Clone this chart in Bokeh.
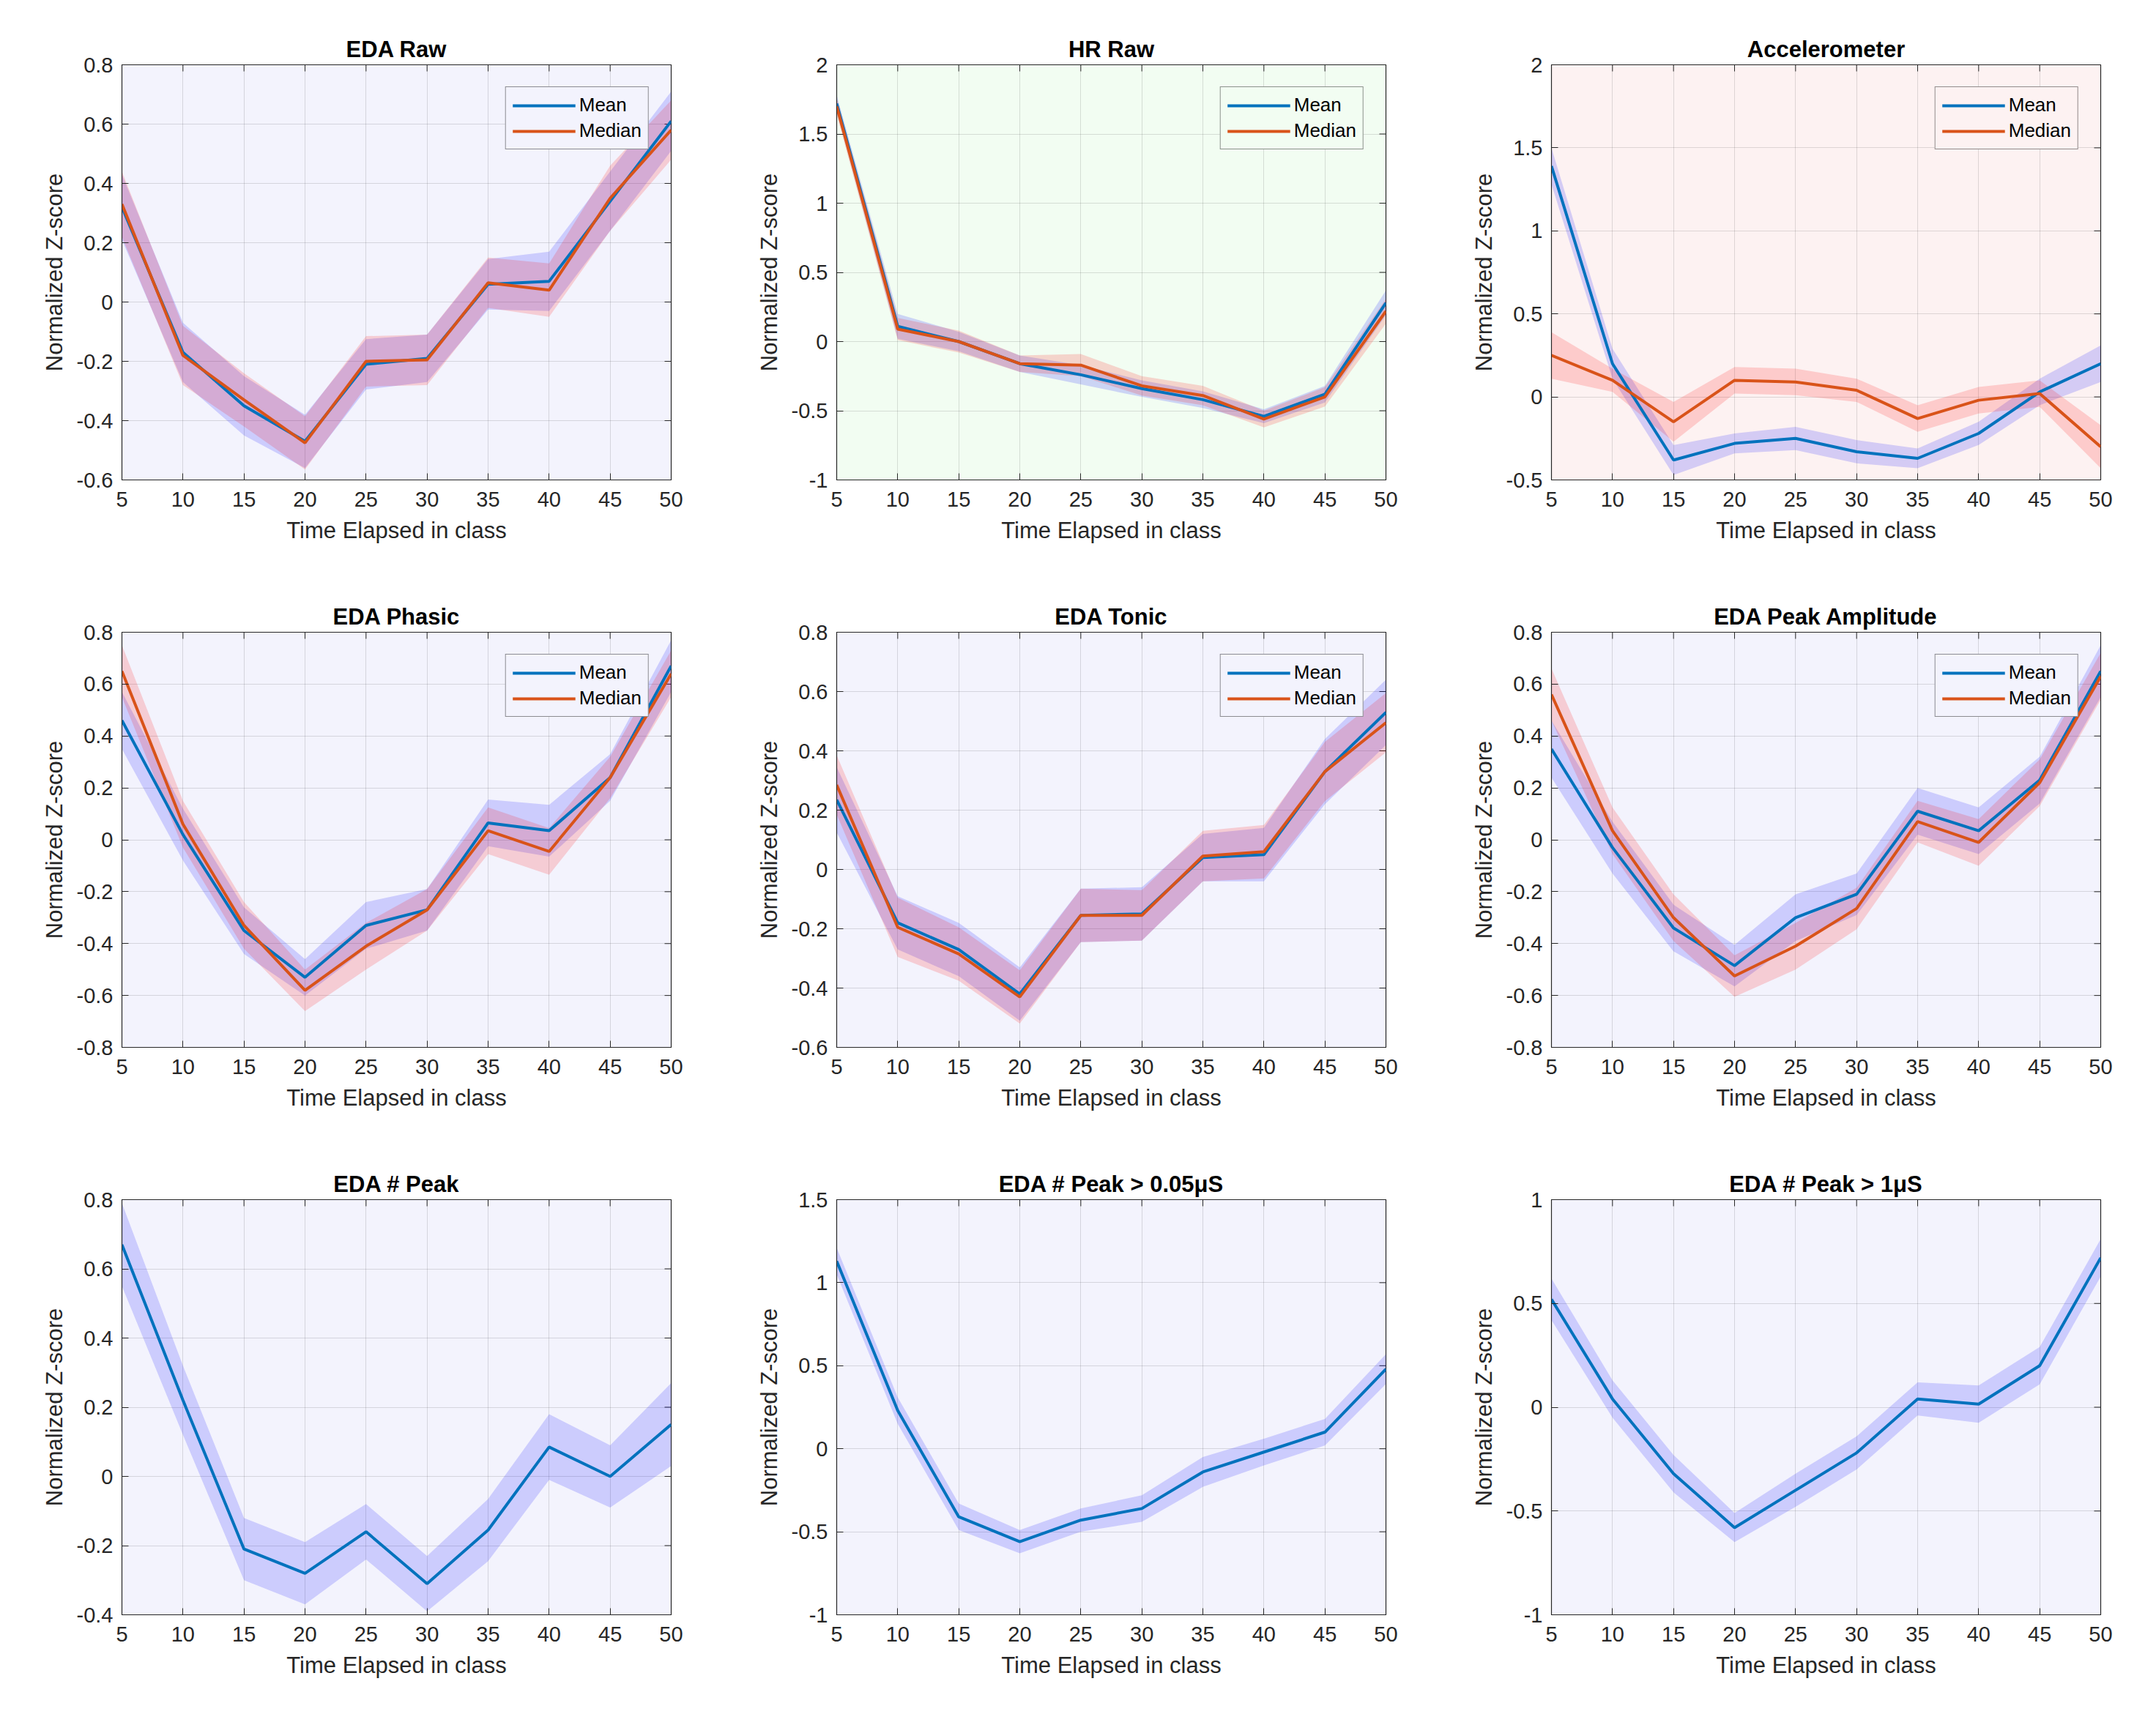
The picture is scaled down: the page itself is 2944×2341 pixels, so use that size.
from math import pi
from bokeh.plotting import figure
from bokeh.layouts import gridplot
from bokeh.models import Range1d, FixedTicker
from bokeh.embed import file_html
from bokeh.resources import INLINE

# time points (minutes elapsed in class)
t = [5, 10, 15, 20, 25, 30, 35, 40, 45, 50]

# EDA Raw
raw_mean = [0.32, -0.17, -0.35, -0.47, -0.21, -0.19, 0.06, 0.07, 0.34, 0.61]
raw_mean_err = [0.11, 0.10, 0.10, 0.09, 0.085, 0.08, 0.085, 0.10, 0.10, 0.10]
raw_median = [0.33, -0.18, -0.33, -0.475, -0.20, -0.195, 0.065, 0.04, 0.35, 0.58]
raw_median_err = [0.11, 0.10, 0.09, 0.09, 0.085, 0.085, 0.085, 0.09, 0.11, 0.10]

# HR Raw
hr_mean = [1.72, 0.11, 0.00, -0.16, -0.24, -0.34, -0.42, -0.54, -0.38, 0.28]
hr_mean_err = [0.06, 0.09, 0.07, 0.06, 0.07, 0.06, 0.06, 0.05, 0.06, 0.09]
hr_median = [1.70, 0.09, 0.00, -0.16, -0.17, -0.32, -0.39, -0.56, -0.40, 0.22]
hr_median_err = [0.06, 0.08, 0.08, 0.06, 0.08, 0.07, 0.07, 0.06, 0.07, 0.09]

# Accelerometer
acc_mean = [1.39, 0.20, -0.38, -0.28, -0.25, -0.33, -0.37, -0.22, 0.03, 0.20]
acc_mean_err = [0.11, 0.09, 0.09, 0.06, 0.07, 0.07, 0.06, 0.07, 0.08, 0.11]
acc_median = [0.25, 0.10, -0.15, 0.10, 0.09, 0.04, -0.13, -0.02, 0.02, -0.30]
acc_median_err = [0.14, 0.07, 0.12, 0.08, 0.08, 0.07, 0.08, 0.08, 0.08, 0.13]

# EDA Phasic
ph_mean = [0.46, 0.02, -0.35, -0.53, -0.33, -0.27, 0.065, 0.035, 0.24, 0.67]
ph_mean_err = [0.11, 0.10, 0.09, 0.07, 0.09, 0.08, 0.09, 0.10, 0.09, 0.10]
ph_median = [0.65, 0.06, -0.33, -0.58, -0.41, -0.27, 0.035, -0.045, 0.24, 0.64]
ph_median_err = [0.10, 0.09, 0.09, 0.08, 0.09, 0.08, 0.09, 0.09, 0.08, 0.09]

# EDA Tonic
to_mean = [0.235, -0.18, -0.27, -0.42, -0.155, -0.15, 0.04, 0.05, 0.33, 0.53]
to_mean_err = [0.11, 0.09, 0.09, 0.09, 0.09, 0.09, 0.08, 0.09, 0.11, 0.11]
to_median = [0.285, -0.195, -0.285, -0.43, -0.155, -0.155, 0.045, 0.06, 0.33, 0.495]
to_median_err = [0.10, 0.10, 0.09, 0.09, 0.09, 0.085, 0.085, 0.09, 0.10, 0.10]

# EDA Peak Amplitude
pa_mean = [0.35, -0.03, -0.34, -0.485, -0.30, -0.21, 0.11, 0.035, 0.23, 0.65]
pa_mean_err = [0.11, 0.10, 0.09, 0.08, 0.09, 0.08, 0.09, 0.09, 0.09, 0.10]
pa_median = [0.56, 0.035, -0.30, -0.525, -0.41, -0.265, 0.07, -0.01, 0.22, 0.63]
pa_median_err = [0.10, 0.09, 0.09, 0.08, 0.09, 0.08, 0.08, 0.09, 0.09, 0.09]

# EDA # Peak
npk_mean = [0.67, 0.22, -0.21, -0.28, -0.16, -0.31, -0.155, 0.085, 0.00, 0.15]
npk_err = [0.12, 0.10, 0.09, 0.09, 0.08, 0.08, 0.09, 0.095, 0.09, 0.12]

# EDA # Peak > 0.05uS
npk05_mean = [1.13, 0.23, -0.41, -0.56, -0.43, -0.36, -0.14, -0.02, 0.10, 0.48]
npk05_err = [0.08, 0.08, 0.08, 0.07, 0.07, 0.08, 0.09, 0.08, 0.08, 0.09]

# EDA # Peak > 1uS
npk1_mean = [0.52, 0.04, -0.32, -0.58, -0.40, -0.22, 0.04, 0.015, 0.20, 0.72]
npk1_err = [0.10, 0.09, 0.09, 0.07, 0.08, 0.08, 0.08, 0.09, 0.09, 0.09]

# tick values
xticks = [5, 10, 15, 20, 25, 30, 35, 40, 45, 50]
yt_raw = [-0.6, -0.4, -0.2, 0, 0.2, 0.4, 0.6, 0.8]
yt_hr = [-1, -0.5, 0, 0.5, 1, 1.5, 2]
yt_acc = [-0.5, 0, 0.5, 1, 1.5, 2]
yt_phasic = [-0.8, -0.6, -0.4, -0.2, 0, 0.2, 0.4, 0.6, 0.8]
yt_tonic = [-0.6, -0.4, -0.2, 0, 0.2, 0.4, 0.6, 0.8]
yt_amp = [-0.8, -0.6, -0.4, -0.2, 0, 0.2, 0.4, 0.6, 0.8]
yt_npk = [-0.4, -0.2, 0, 0.2, 0.4, 0.6, 0.8]
yt_npk05 = [-1, -0.5, 0, 0.5, 1, 1.5]
yt_npk1 = [-1, -0.5, 0, 0.5, 1]

FONT = "Liberation Sans"
TXT = "#262626"
MEAN_COLOR = "#0072BD"
MEDIAN_COLOR = "#D95319"
BG_EDA = "#f3f3fd"
BG_HR = "#f2fdf2"
BG_ACC = "#fdf2f2"


def band(p, y, err, color):
    lo = [a - b for a, b in zip(y, err)]
    hi = [a + b for a, b in zip(y, err)]
    p.varea(x=t, y1=lo, y2=hi, fill_color=color, fill_alpha=0.16)


def make_panel(title, yticks, bg, mean, mean_err, median=None, median_err=None):
    p = figure(frame_width=750, frame_height=567,
               x_range=Range1d(xticks[0], xticks[-1]), y_range=Range1d(yticks[0], yticks[-1]),
               output_backend="svg", toolbar_location=None, tools="",
               min_border_left=166, min_border_right=60,
               min_border_top=88, min_border_bottom=120)
    p.background_fill_color = bg
    p.border_fill_color = "white"
    p.outline_line_color = TXT
    p.outline_line_width = 1.2

    p.title.text = title
    p.title.align = "center"
    p.title.text_font = FONT
    p.title.text_font_size = "31px"
    p.title.text_font_style = "bold"
    p.title.text_color = "black"
    p.title.standoff = 8

    p.xaxis.ticker = FixedTicker(ticks=xticks)
    p.yaxis.ticker = FixedTicker(ticks=yticks)
    p.yaxis.major_label_overrides = {v: f"{v:g}" for v in yticks}
    p.xaxis.axis_label = "Time Elapsed in class"
    p.yaxis.axis_label = "Normalized Z-score"
    for ax in p.axis:
        ax.axis_label_text_font = FONT
        ax.axis_label_text_font_size = "31px"
        ax.axis_label_text_font_style = "normal"
        ax.axis_label_text_color = TXT
        ax.major_label_text_font = FONT
        ax.major_label_text_font_size = "29px"
        ax.major_label_text_color = TXT
        ax.axis_line_color = TXT
        ax.major_tick_line_color = TXT
        ax.major_tick_in = 9
        ax.major_tick_out = 0
        ax.minor_tick_line_color = None
    p.xaxis.major_label_standoff = 16
    p.xaxis.axis_label_standoff = 12
    p.yaxis.major_label_standoff = 12
    p.yaxis.axis_label_standoff = 10

    p.grid.grid_line_color = TXT
    p.grid.grid_line_alpha = 0.15

    # inward tick marks on the top and right edges of the box
    p.scatter(x=[xticks[-1]] * len(yticks), y=yticks, marker="dash", size=18,
              line_color=TXT, line_width=1)
    p.scatter(x=xticks, y=[yticks[-1]] * len(xticks), marker="dash", size=18,
              angle=pi / 2, line_color=TXT, line_width=1)

    band(p, mean, mean_err, "#0000ff")
    if median is not None:
        band(p, median, median_err, "#ff0000")
        p.line(t, mean, line_color=MEAN_COLOR, line_width=4, legend_label="Mean")
        p.line(t, median, line_color=MEDIAN_COLOR, line_width=4, legend_label="Median")
        p.legend.location = "top_right"
        p.legend.margin = 30
        p.legend.padding = 9
        p.legend.spacing = 4
        p.legend.label_text_font = FONT
        p.legend.label_text_font_size = "26px"
        p.legend.label_text_color = "black"
        p.legend.label_standoff = 5
        p.legend.glyph_width = 86
        p.legend.glyph_height = 30
        p.legend.background_fill_color = bg
        p.legend.background_fill_alpha = 1
        p.legend.border_line_color = TXT
        p.legend.border_line_width = 1.5
    else:
        p.line(t, mean, line_color=MEAN_COLOR, line_width=4)
    return p


p1 = make_panel("EDA Raw", yt_raw, BG_EDA, raw_mean, raw_mean_err, raw_median, raw_median_err)
p2 = make_panel("HR Raw", yt_hr, BG_HR, hr_mean, hr_mean_err, hr_median, hr_median_err)
p3 = make_panel("Accelerometer", yt_acc, BG_ACC, acc_mean, acc_mean_err, acc_median, acc_median_err)
p4 = make_panel("EDA Phasic", yt_phasic, BG_EDA, ph_mean, ph_mean_err, ph_median, ph_median_err)
p5 = make_panel("EDA Tonic", yt_tonic, BG_EDA, to_mean, to_mean_err, to_median, to_median_err)
p6 = make_panel("EDA Peak Amplitude", yt_amp, BG_EDA, pa_mean, pa_mean_err, pa_median, pa_median_err)
p7 = make_panel("EDA # Peak", yt_npk, BG_EDA, npk_mean, npk_err)
p8 = make_panel("EDA # Peak > 0.05\u03bcS", yt_npk05, BG_EDA, npk05_mean, npk05_err)
p9 = make_panel("EDA # Peak > 1\u03bcS", yt_npk1, BG_EDA, npk1_mean, npk1_err)

grid = gridplot([[p1, p2, p3], [p4, p5, p6], [p7, p8, p9]], toolbar_location=None)

open("out.html", "w").write(file_html(grid, INLINE))
